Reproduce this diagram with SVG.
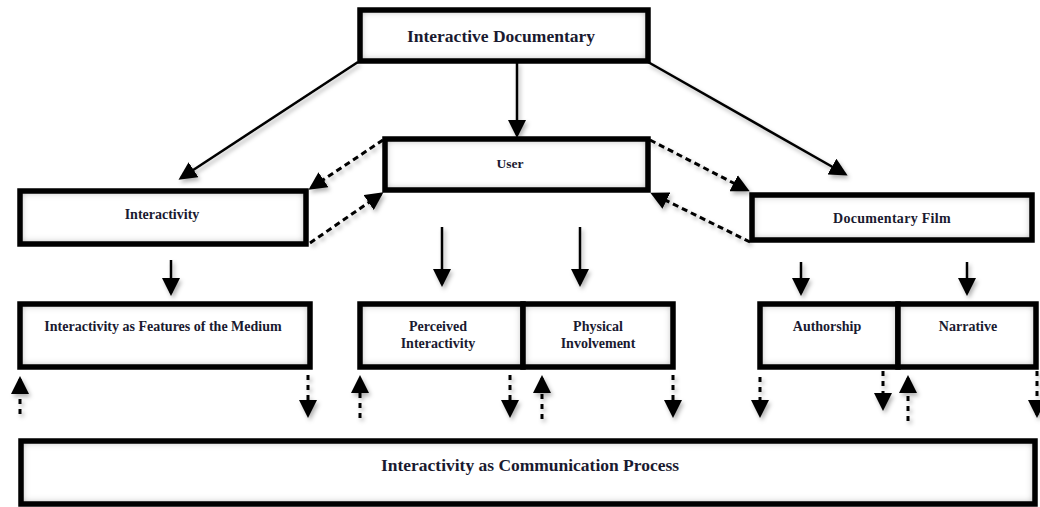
<svg xmlns="http://www.w3.org/2000/svg" width="1040" height="507" viewBox="0 0 1040 507">
<style>
.fill{fill:#fff;filter:url(#inner)}
.box{fill:none;stroke:#000;stroke-width:5.5}
.t{font-family:"Liberation Serif","Times New Roman",serif;font-weight:bold;fill:#1a1a30;text-anchor:middle}
.solid{stroke:#000;stroke-width:2.5;fill:none;marker-end:url(#head)}
.dash{stroke:#000;stroke-width:3;fill:none;stroke-dasharray:6 4;marker-end:url(#head)}
.vdash{stroke:#000;stroke-width:3;fill:none;stroke-dasharray:5 5;marker-end:url(#head)}
</style>
<defs>
<filter id="inner" x="-10%" y="-30%" width="120%" height="160%">
<feFlood flood-color="#555" result="f"/>
<feComposite in="f" in2="SourceAlpha" operator="out" result="o"/>
<feGaussianBlur in="o" stdDeviation="4" result="b"/>
<feComposite in="b" in2="SourceAlpha" operator="in" result="s"/>
<feMerge><feMergeNode in="SourceGraphic"/><feMergeNode in="s"/></feMerge>
</filter>
<filter id="shadow" x="-20%" y="-20%" width="140%" height="140%">
<feDropShadow dx="2" dy="3" stdDeviation="2" flood-color="#000" flood-opacity="0.3"/>
</filter>
<marker id="head" markerUnits="userSpaceOnUse" markerWidth="18" markerHeight="18" viewBox="0 0 18 18" refX="15" refY="9" orient="auto">
<path d="M0,0 L18,9 L0,18 z" fill="#000"/>
</marker>
</defs>

<g id="connectors" filter="url(#shadow)">
<path class="solid" d="M358,62 L181,178"/>
<path class="solid" d="M517,62 L517,135"/>
<path class="solid" d="M648,62 L845,174"/>
<path class="dash" d="M383,140 L311,188"/>
<path class="dash" d="M310,243 L381,194"/>
<path class="dash" d="M650,140 L747,190"/>
<path class="dash" d="M750,242 L653,194"/>
<path class="solid" d="M171,260 L171,293"/>
<path class="solid" d="M442,227 L442,284"/>
<path class="solid" d="M580,227 L580,284"/>
<path class="solid" d="M801,262 L801,293"/>
<path class="solid" d="M967,262 L967,293"/>
<path class="vdash" d="M20,414 L20,379"/>
<path class="vdash" d="M308,375 L308,415"/>
<path class="vdash" d="M360,418 L360,378"/>
<path class="vdash" d="M510,375 L510,415"/>
<path class="vdash" d="M542,419 L542,378"/>
<path class="vdash" d="M673,375 L673,415"/>
<path class="vdash" d="M760,377 L760,415"/>
<path class="vdash" d="M883,371 L883,408"/>
<path class="vdash" d="M908,421 L908,378"/>
<path class="vdash" d="M1037,371 L1037,415"/>
</g>

<g id="n-interactive-documentary">
<rect class="fill" x="360" y="10" width="288" height="51"/>
<rect class="box" x="360" y="10" width="288" height="51"/>
<text class="t" x="501" y="42" font-size="17.5">Interactive Documentary</text>
</g>
<g id="n-user">
<rect class="fill" x="385" y="139" width="263" height="51"/>
<rect class="box" x="385" y="139" width="263" height="51"/>
<text class="t" x="510" y="168" font-size="13.5">User</text>
</g>
<g id="n-interactivity">
<rect class="fill" x="20" y="191" width="286" height="53"/>
<rect class="box" x="20" y="191" width="286" height="53"/>
<text class="t" x="162" y="219" font-size="14">Interactivity</text>
</g>
<g id="n-documentary-film">
<rect class="fill" x="752" y="195" width="280" height="45"/>
<rect class="box" x="752" y="195" width="280" height="45"/>
<text class="t" x="892" y="223" font-size="14" letter-spacing="0.3">Documentary Film</text>
</g>
<g id="n-features">
<rect class="fill" x="20" y="304" width="290" height="63"/>
<rect class="box" x="20" y="304" width="290" height="63"/>
<text class="t" x="163" y="331" font-size="14">Interactivity as Features of the Medium</text>
</g>
<g id="n-perceived">
<rect class="fill" x="360" y="304" width="163" height="63"/>
<rect class="box" x="360" y="304" width="163" height="63"/>
<text class="t" x="438" y="331" font-size="14">Perceived</text>
<text class="t" x="438" y="348" font-size="14">Interactivity</text>
</g>
<g id="n-physical">
<rect class="fill" x="523" y="304" width="150" height="63"/>
<rect class="box" x="523" y="304" width="150" height="63"/>
<text class="t" x="598" y="331" font-size="14">Physical</text>
<text class="t" x="598" y="348" font-size="14">Involvement</text>
</g>
<g id="n-authorship">
<rect class="fill" x="760" y="304" width="138" height="63"/>
<rect class="box" x="760" y="304" width="138" height="63"/>
<text class="t" x="827" y="331" font-size="14">Authorship</text>
</g>
<g id="n-narrative">
<rect class="fill" x="898" y="304" width="138" height="63"/>
<rect class="box" x="898" y="304" width="138" height="63"/>
<text class="t" x="968" y="331" font-size="14">Narrative</text>
</g>
<g id="n-communication">
<rect class="fill" x="21" y="441" width="1014" height="63"/>
<rect class="box" x="21" y="441" width="1014" height="63"/>
<text class="t" x="530" y="471" font-size="16" textLength="298" lengthAdjust="spacingAndGlyphs">Interactivity as Communication Process</text>
</g>
</svg>
